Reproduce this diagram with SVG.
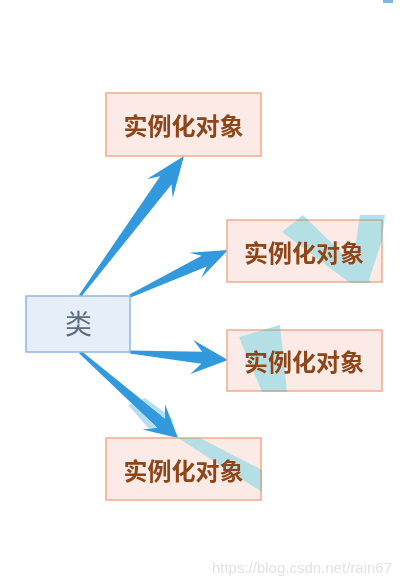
<svg xmlns="http://www.w3.org/2000/svg" width="402" height="585" viewBox="0 0 402 585">
<style>
.obj rect{fill:#fbeae5;stroke:#f4aa8c;stroke-width:1.5}
.obj text{font-family:"Noto Sans CJK SC","Liberation Serif",serif;font-size:24px;font-weight:bold;fill:#8e4519;text-anchor:middle;dominant-baseline:central}
.cls rect{fill:#e6eef9;stroke:#8fb8e4;stroke-width:1.5}
.cls text{font-family:"Noto Sans CJK SC","Liberation Sans",sans-serif;font-size:27px;fill:#5d6b80;text-anchor:middle;dominant-baseline:central}
.arr{fill:#3399dd}
.hl{fill:#b4dff0;mix-blend-mode:darken}
.wm{font-family:"Liberation Sans",Arial,sans-serif;font-size:15px;fill:#e2e2e2;text-anchor:end}
</style>
<rect width="402" height="585" fill="#ffffff"/>
<rect x="383" y="0" width="10" height="3" fill="#7db8e8"/>
<g id="connectors">
<polygon class="arr" points="79,295 160.2,176.2 147.1,178.9 184,156 172.7,197.9 171.4,184.6 81,297"/>
<polygon class="arr" points="129.4,294.6 201.6,255.7 189.3,252.7 228,250 201.2,278.1 206.8,266.5 130.6,297.4"/>
<polygon class="arr" points="130.2,350.5 202.3,351.8 193.2,340 228,360 190.4,374 201.3,363.8 129.8,353.5"/>
<polygon class="arr" points="81,350.8 165.1,418.8 164.9,403.9 178,438 142.5,429.5 157.3,427.8 79,353.2"/>
</g>
<g id="node-class" class="cls">
<rect x="26" y="296" width="104" height="56"/>
<text x="78.5" y="322">类</text>
</g>
<g id="node-obj1" class="obj">
<rect x="106" y="93" width="155" height="63"/>
<text x="183.5" y="124">实例化对象</text>
</g>
<g id="node-obj2" class="obj">
<rect x="227" y="220" width="155" height="62"/>
<text x="304" y="251">实例化对象</text>
</g>
<g id="node-obj3" class="obj">
<rect x="227" y="330" width="155" height="61"/>
<text x="304" y="360">实例化对象</text>
</g>
<g id="node-obj4" class="obj">
<rect x="106" y="438" width="155" height="62"/>
<text x="183.5" y="469">实例化对象</text>
</g>
<g id="highlights">
<polygon class="hl" points="282,232 303,215 372,283 350,283"/>
<polygon class="hl" points="360,215 385,215 382,240 368,283 352,270"/>
<polygon class="hl" points="239,337 280,325 287,392 262,392"/>
<polygon class="hl" points="178,438 200,438 262,470 262,492"/>
<polygon class="hl" points="128,405 145,398 172,418 176,436 150,430"/>
</g>
<text class="wm" x="392" y="573">https://blog.csdn.net/rain67</text>
</svg>
